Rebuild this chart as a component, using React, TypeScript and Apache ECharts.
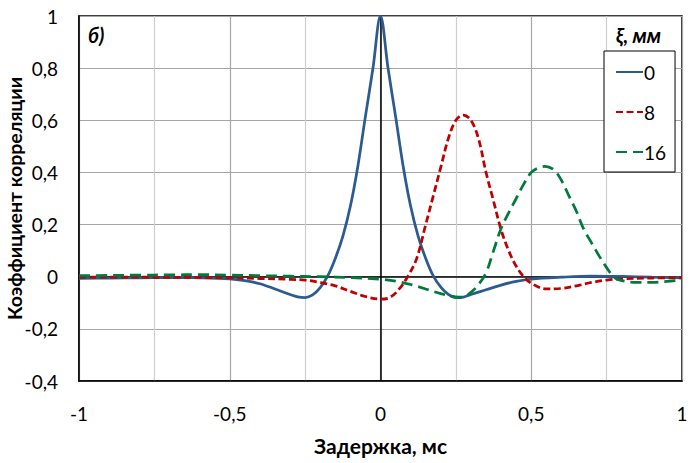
import React, { useEffect, useRef } from "react";
import * as echarts from "echarts";

// Delay, ms (x) and correlation coefficient (y) for each shift ξ, mm
const x0 = [-1, -0.9, -0.8, -0.7, -0.6, -0.5, -0.45, -0.4, -0.35, -0.3, -0.275, -0.25, -0.225, -0.2, -0.175, -0.15, -0.125, -0.1, -0.075, -0.05, -0.025, 0, 0.025, 0.05, 0.075, 0.1, 0.125, 0.15, 0.175, 0.2, 0.225, 0.25, 0.275, 0.3, 0.35, 0.4, 0.45, 0.5, 0.6, 0.7, 0.8, 0.9, 1];
const y0 = [-0.006, -0.005, -0.004, -0.003, -0.004, -0.008, -0.015, -0.027, -0.047, -0.068, -0.077, -0.08, -0.07, -0.042, 0.003, 0.07, 0.155, 0.27, 0.425, 0.615, 0.8, 1, 0.8, 0.615, 0.425, 0.27, 0.155, 0.07, 0.003, -0.04, -0.068, -0.08, -0.078, -0.068, -0.05, -0.032, -0.018, -0.009, -0.002, 0.002, 0.001, -0.002, -0.004];

const x8 = [-1, -0.8, -0.6, -0.5, -0.4, -0.3, -0.25, -0.2, -0.15, -0.1, -0.05, 0, 0.03, 0.06, 0.09, 0.12, 0.15, 0.175, 0.2, 0.225, 0.25, 0.275, 0.3, 0.325, 0.35, 0.375, 0.4, 0.425, 0.45, 0.475, 0.5, 0.55, 0.6, 0.65, 0.7, 0.75, 0.8, 0.9, 1];
const y8 = [-0.002, -0.002, -0.003, -0.004, -0.007, -0.01, -0.013, -0.022, -0.035, -0.056, -0.076, -0.086, -0.08, -0.05, 0, 0.07, 0.2, 0.31, 0.42, 0.53, 0.6, 0.62, 0.6, 0.53, 0.4, 0.29, 0.18, 0.1, 0.04, 0, -0.025, -0.047, -0.045, -0.035, -0.022, -0.013, -0.008, -0.005, -0.004];

const x16 = [-1, -0.9, -0.8, -0.7, -0.6, -0.5, -0.4, -0.3, -0.2, -0.1, 0, 0.05, 0.1, 0.15, 0.2, 0.25, 0.275, 0.3, 0.325, 0.35, 0.375, 0.4, 0.425, 0.45, 0.475, 0.5, 0.525, 0.545, 0.575, 0.6, 0.625, 0.65, 0.675, 0.7, 0.725, 0.75, 0.775, 0.8, 0.85, 0.9, 0.95, 1];
const y16 = [0.004, 0.005, 0.006, 0.007, 0.008, 0.006, 0.004, 0.002, 0, -0.003, -0.01, -0.017, -0.03, -0.047, -0.065, -0.077, -0.078, -0.06, -0.03, 0.015, 0.1, 0.185, 0.245, 0.3, 0.355, 0.4, 0.418, 0.423, 0.41, 0.37, 0.31, 0.25, 0.18, 0.13, 0.08, 0.035, -0.003, -0.015, -0.022, -0.022, -0.018, -0.012];

const seriesNames = ["0", "8", "16"];
const seriesColors = ["#2B5B8F", "#C00000", "#007A3D"];

const xTitle = "Задержка, мс";
const yTitle = "Коэффициент корреляции";
const panelLabel = "б)";
const legendTitle = "ξ, мм";

const FONT = "Lato, 'Noto Sans', sans-serif";

const comma = (v: number) => String(Math.round(v * 100) / 100).replace(".", ",");

export default function App() {
  const ref = useRef<HTMLDivElement>(null);
  useEffect(() => {
    if (!ref.current) return;
    const chart = echarts.init(ref.current, undefined, { renderer: "svg" });
    const pairs = (xs: number[], ys: number[]) => xs.map((x, i) => [x, ys[i]]);
    const dashes: any[] = ["solid", [7, 3.5], [11, 6]];
    const datasets = [pairs(x0, y0), pairs(x8, y8), pairs(x16, y16)];
    chart.setOption({
      animation: false,
      backgroundColor: "#fff",
      textStyle: { fontFamily: FONT, color: "#000" },
      grid: {
        left: 79,
        top: 16,
        right: 12,
        bottom: 82,
        containLabel: false,
        outerBoundsMode: "none",
        show: true,
        borderColor: "#000",
        borderWidth: 1.5,
        backgroundColor: "#fff",
      },
      xAxis: {
        type: "value",
        min: -1,
        max: 1,
        interval: 0.5,
        axisLine: { show: true, onZero: false, lineStyle: { color: "#000", width: 1.5 } },
        axisTick: { show: false },
        minorTick: { show: false, splitNumber: 2 },
        splitLine: { show: true, lineStyle: { color: "#a6a6a6", width: 1.2 } },
        minorSplitLine: { show: true, lineStyle: { color: "#cfcfcf", width: 1.2 } },
        axisLabel: { formatter: comma, fontSize: 19, color: "#000", margin: 23, fontFamily: FONT },
        name: xTitle,
        nameLocation: "middle",
        nameGap: 54,
        nameTextStyle: { fontSize: 21, fontWeight: "bold", color: "#000", fontFamily: FONT },
      },
      yAxis: {
        type: "value",
        min: -0.4,
        max: 1,
        interval: 0.2,
        axisLine: { show: true, onZero: false, lineStyle: { color: "#000", width: 1.5 } },
        axisTick: { show: false },
        splitLine: { show: true, lineStyle: { color: "#a6a6a6", width: 1.2 } },
        axisLabel: { formatter: comma, fontSize: 19, color: "#000", margin: 21, fontFamily: FONT },
        name: yTitle,
        nameLocation: "middle",
        nameGap: 55,
        nameMoveOverlap: false,
        nameTextStyle: { fontSize: 19.5, fontWeight: "bold", color: "#000", fontFamily: FONT },
      },
      legend: {
        orient: "vertical",
        left: 604,
        top: 51,
        itemWidth: 27,
        itemHeight: 14,
        itemGap: 20,
        padding: [11, 9, 10, 11],
        borderColor: "#000",
        borderWidth: 1,
        backgroundColor: "#fff",
        itemStyle: { opacity: 0 },
        textStyle: { fontSize: 19, color: "#000", lineHeight: 20, fontFamily: FONT, padding: [0, 0, 0, -4] },
        data: seriesNames,
      },
      graphic: [
        {
          type: "text",
          left: 88,
          top: 25,
          style: { text: panelLabel, font: `italic bold 20px ${FONT}`, fill: "#000" },
        },
        {
          type: "text",
          left: 616,
          top: 25,
          style: { text: legendTitle, font: `italic bold 20px ${FONT}`, fill: "#000" },
        },
      ],
      series: datasets.map((d, i) => ({
        name: seriesNames[i],
        type: "line",
        data: d,
        smooth: 0.35,
        symbol: "none",
        color: seriesColors[i],
        lineStyle: { color: seriesColors[i], width: 2.75, type: dashes[i], cap: "butt" },
        z: 3 + i,
        ...(i === 0
          ? {
              markLine: {
                silent: true,
                symbol: ["none", "none"],
                label: { show: false },
                lineStyle: { color: "#000", type: "solid", width: 1.5 },
                data: [{ yAxis: 0 }, { xAxis: 0 }],
                z: 1,
              },
            }
          : {}),
      })),
    });
    return () => chart.dispose();
  }, []);
  return (
    <div
      ref={ref}
      style={{ position: "fixed", left: 0, top: 0, width: 694, height: 463, background: "#fff" }}
    />
  );
}
